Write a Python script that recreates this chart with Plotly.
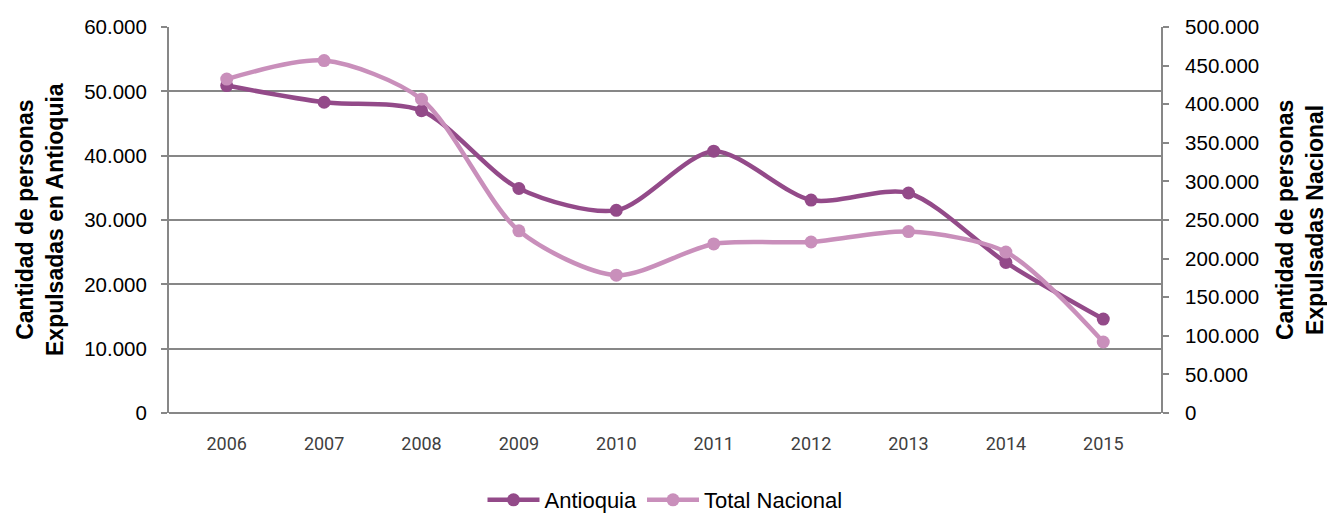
import plotly.graph_objects as go

years = ["2006", "2007", "2008", "2009", "2010", "2011", "2012", "2013", "2014", "2015"]
antioquia = [50900, 48300, 47000, 34900, 31500, 40700, 33100, 34200, 23400, 14600]
total_nacional = [432500, 456500, 406500, 236000, 178500, 219000, 221500, 235000, 208500, 92000]

left_ticks = [0, 10000, 20000, 30000, 40000, 50000, 60000]
left_labels = ["0", "10.000", "20.000", "30.000", "40.000", "50.000", "60.000"]
right_ticks = list(range(0, 500001, 50000))
right_labels = ["0", "50.000", "100.000", "150.000", "200.000", "250.000",
                "300.000", "350.000", "400.000", "450.000", "500.000"]

FONT = "Liberation Sans, Arial, sans-serif"
C_ANT = "#934a89"
C_NAC = "#c98fbb"
GRID = "#878787"

L, R, T, B = 169, 166, 27, 102
W, H = 1327, 515
plot_w = W - L - R
plot_h = H - T - B

fig = go.Figure()
fig.add_trace(go.Scatter(
    x=years, y=antioquia, name="Antioquia", mode="lines+markers",
    line=dict(color=C_ANT, width=4.5, shape="spline", smoothing=0.8),
    marker=dict(color=C_ANT, size=13), yaxis="y",
))
fig.add_trace(go.Scatter(
    x=years, y=total_nacional, name="Total Nacional", mode="lines+markers",
    line=dict(color=C_NAC, width=4.5, shape="spline", smoothing=0.8),
    marker=dict(color=C_NAC, size=13), yaxis="y2",
))

fig.update_layout(
    width=W, height=H,
    margin=dict(l=L, r=R, t=T, b=B, autoexpand=False),
    paper_bgcolor="white", plot_bgcolor="white",
    font=dict(family=FONT, size=20, color="#000000"),
    xaxis=dict(
        type="category", showgrid=False, zeroline=False, showline=False,
        ticks="", tickfont=dict(size=18, color="#404040", family="Roboto, Liberation Sans, sans-serif"),
        ticklabelstandoff=18, automargin=False,
    ),
    yaxis=dict(
        range=[0, 60000], tickvals=left_ticks, ticktext=left_labels,
        showgrid=True, gridcolor=GRID, gridwidth=1.5,
        zeroline=True, zerolinecolor=GRID, zerolinewidth=2,
        showline=True, linecolor=GRID, linewidth=2,
        ticks="outside", ticklen=6, tickcolor=GRID, tickwidth=1.5,
        tickfont=dict(size=20.5), ticklabelstandoff=10, automargin=False,
    ),
    yaxis2=dict(
        range=[0, 500000], tickvals=right_ticks, ticktext=right_labels,
        overlaying="y", side="right", showgrid=False, zeroline=False,
        showline=True, linecolor=GRID, linewidth=2,
        ticks="outside", ticklen=6, tickcolor=GRID, tickwidth=1.5,
        tickfont=dict(size=20.5), ticklabelstandoff=12, automargin=False,
    ),
    legend=dict(
        orientation="h", x=0.5, xanchor="center",
        y=(T + plot_h - 500) / plot_h, yanchor="middle",
        font=dict(size=22), tracegroupgap=0, itemwidth=52,
    ),
    showlegend=True,
)

# rotated axis titles placed in pixel terms relative to the plot area
fig.add_annotation(
    text="<b>Cantidad de personas<br>Expulsadas en Antioquia</b>",
    x=(40 - L) / plot_w, xref="paper", y=0.5, yref="paper", showarrow=False,
    textangle=-90, font=dict(size=23), xanchor="center", yanchor="middle",
)
fig.add_annotation(
    text="<b>Cantidad de personas<br>Expulsadas Nacional</b>",
    x=(1300 - L) / plot_w, xref="paper", y=0.5, yref="paper", showarrow=False,
    textangle=-90, font=dict(size=23), xanchor="center", yanchor="middle",
)

fig.write_html("out.html")
